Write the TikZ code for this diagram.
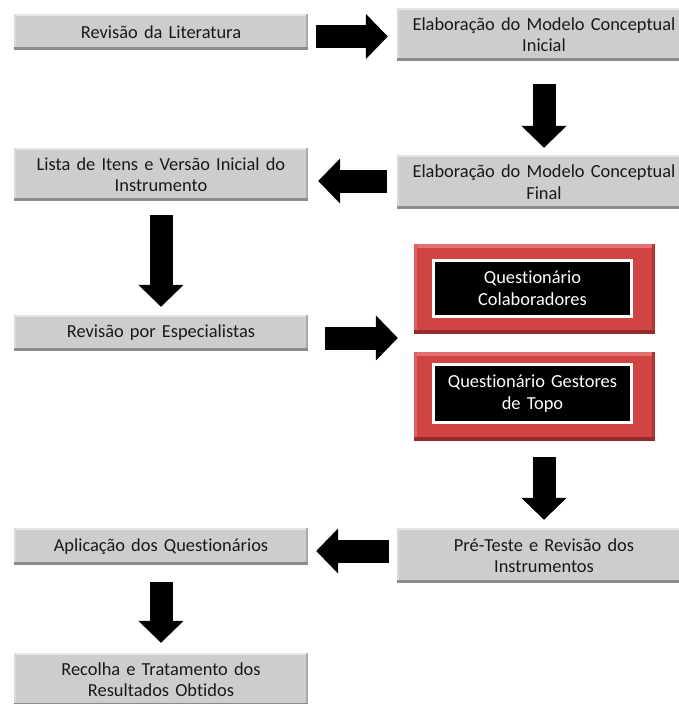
\documentclass[tikz,border=0pt]{standalone}
\usepackage{fontspec}
\setmainfont{Carlito}[Ligatures=NoCommon]
\usetikzlibrary{arrows.meta}
\definecolor{boxgray}{RGB}{205,205,205}
\definecolor{bevlight}{RGB}{230,230,230}
\definecolor{bevside}{RGB}{218,218,218}
\definecolor{bevdark}{RGB}{140,140,140}
\definecolor{bevright}{RGB}{170,170,170}
\definecolor{redfill}{RGB}{208,68,68}
\definecolor{redlight}{RGB}{228,112,112}
\definecolor{redside}{RGB}{220,96,96}
\definecolor{reddark}{RGB}{150,44,44}
\definecolor{redright}{RGB}{176,54,54}
\definecolor{textdark}{RGB}{25,25,25}
\newcommand{\boxfont}{\fontsize{18.4}{21.5}\selectfont}
\tikzset{
  graybox/.style={fill=boxgray, inner sep=0pt, align=center, text width=292pt,
    font=\boxfont, text=textdark, minimum width=294pt,
    path picture={
      \fill[bevlight] (path picture bounding box.north west) rectangle ([yshift=-2pt]path picture bounding box.north east);
      \fill[bevside] (path picture bounding box.north west) rectangle ([xshift=2pt]path picture bounding box.south west);
      \fill[bevright] ([xshift=-2pt]path picture bounding box.north east) rectangle (path picture bounding box.south east);
      \fill[bevdark] ([yshift=3pt]path picture bounding box.south west) rectangle (path picture bounding box.south east);
    }},
  redbox/.style={fill=redfill, inner sep=0pt, minimum width=241pt,
    path picture={
      \fill[redlight] (path picture bounding box.north west) rectangle ([yshift=-4pt]path picture bounding box.north east);
      \fill[redside] (path picture bounding box.north west) rectangle ([xshift=3pt]path picture bounding box.south west);
      \fill[redright] ([xshift=-3pt]path picture bounding box.north east) rectangle (path picture bounding box.south east);
      \fill[reddark] ([yshift=4pt]path picture bounding box.south west) rectangle (path picture bounding box.south east);
    }},
  blackbox/.style={fill=black, draw=white, line width=3pt, inner sep=0pt, align=center,
    text width=195pt, font=\boxfont, text=white, minimum width=198pt},
  blockarrow/.style={line width=23pt, draw=black, -{Triangle[length=22pt, width=44pt]}}
}
\begin{document}
\begin{tikzpicture}[x=1pt, y=-1pt]
\useasboundingbox (0,0) rectangle (678,704);
% gray boxes
\node[graybox, minimum height=36pt] (b1) at (161,32) {Revisão da Literatura};
\node[graybox, minimum height=53pt] (b2) at (544,34.5) {Elaboração do Modelo Conceptual\\Inicial};
\node[graybox, minimum height=54pt] (b3) at (544,182) {Elaboração do Modelo Conceptual\\Final};
\node[graybox, minimum height=53pt] (b4) at (161,174.5) {Lista de Itens e Versão Inicial do\\Instrumento};
\node[graybox, minimum height=36pt] (b5) at (161,333) {Revisão por Especialistas};
% red boxes
\node[redbox, minimum height=90pt] (r1) at (534.5,289) {};
\node[blackbox, minimum height=56pt] (q1) at (532.5,288) {Questionário\\Colaboradores};
\node[redbox, minimum height=89pt] (r2) at (534.5,396.5) {};
\node[blackbox, minimum height=58pt] (q2) at (532.5,393.5) {Questionário Gestores\\de Topo};
% lower boxes
\node[graybox, minimum height=55pt] (b6) at (544,555.5) {Pré-Teste e Revisão dos\\Instrumentos};
\node[graybox, minimum height=37pt] (b7) at (161,546.5) {Aplicação dos Questionários};
\node[graybox, minimum height=53pt] (b8) at (161,679.5) {Recolha e Tratamento dos\\Resultados Obtidos};
% arrows
\draw[blockarrow, shorten <=8pt, shorten >=9pt] ([yshift=-4.5pt]b1.east) -- ([yshift=-4.5pt]b1.east -| b2.west);
\draw[blockarrow, shorten <=23pt, shorten >=7pt] (b2.south) -- (b3.north);
\draw[blockarrow, shorten <=10pt, shorten >=10pt] ([yshift=1pt]b3.west) -- ([yshift=1pt]b3.west -| b4.east);
\draw[blockarrow, shorten <=14pt, shorten >=8pt] (b4.south) -- (b5.north);
\draw[blockarrow, shorten <=17pt, shorten >=16pt] ([yshift=-5pt]b5.east) -- ([yshift=-5pt]b5.east -| r1.west);
\draw[blockarrow, shorten <=16pt, shorten >=8pt] (b6.north |- r2.south) -- (b6.north);
\draw[blockarrow, shorten <=8pt, shorten >=8pt] ([yshift=4.5pt]b6.west) -- ([yshift=4.5pt]b6.west -| b7.east);
\draw[blockarrow, shorten <=17pt, shorten >=10pt] (b7.south) -- (b8.north);
\end{tikzpicture}
\end{document}
